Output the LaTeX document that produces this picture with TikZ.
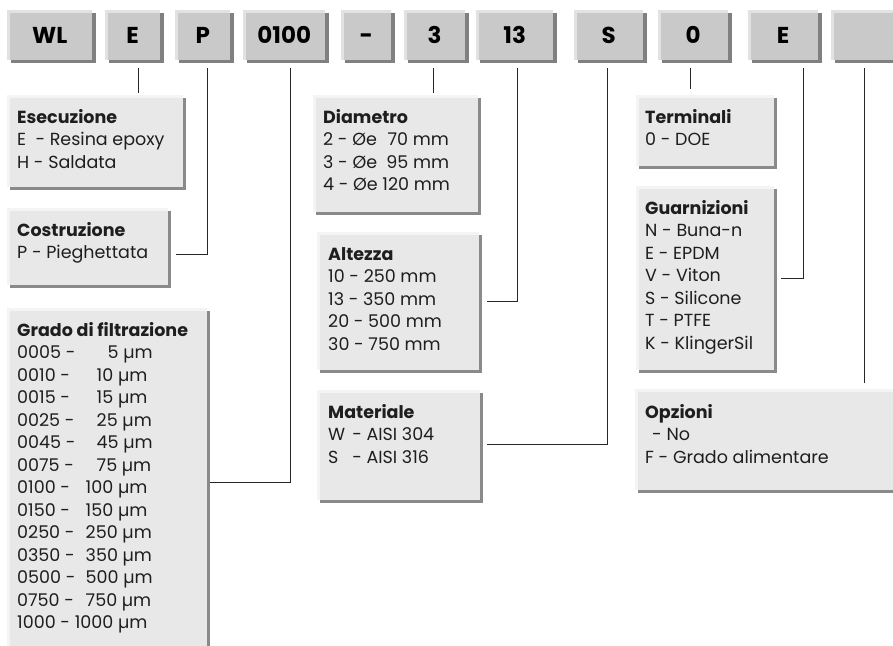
\documentclass[tikz,border=0pt]{standalone}
\usepackage{fontspec}
\setmainfont{Poppins}
\usetikzlibrary{calc,shadows}
\definecolor{tgray}{HTML}{C9C9C9}
\definecolor{tlight}{HTML}{E2E2E2}
\definecolor{shgray}{HTML}{808080}
\definecolor{dgray}{HTML}{E8E8E8}
\definecolor{dlight}{HTML}{F4F4F4}
\definecolor{dshadow}{HTML}{8A8A8A}
\definecolor{txtc}{HTML}{1E1E1E}
\tikzset{
  topbox/.style={rectangle, fill=tgray, inner sep=0pt, anchor=north west,
    minimum height=50pt, text height=16pt, text depth=0pt, font=\fontsize{23}{26}\selectfont\bfseries, text=black,
    drop shadow={shadow xshift=4pt, shadow yshift=-3pt, fill=shgray, opacity=1}},
  descbox/.style={rectangle, fill=dgray, inner sep=0pt, anchor=north west,
    drop shadow={shadow xshift=3pt, shadow yshift=-3pt, fill=dshadow, opacity=1}},
  desctext/.style={anchor=north west, inner sep=0pt, align=left,
    font=\fontsize{17.5}{22.5}\selectfont, text=txtc},
  conn/.style={draw=black!85, line width=0.9pt},
}
\newcommand\firstln{\rule{0pt}{16pt}}
\newcommand\gline[2]{#1 - \hphantom{1000}\llap{#2} µm}
\begin{document}
\begin{tikzpicture}[x=1pt,y=-1pt]
\useasboundingbox (0,0) rectangle (893,645);
\clip (0,0) rectangle (893,645);
% top code boxes
\node[topbox, minimum width=85pt] (tWL) at (7,10) {WL};
\node[topbox, minimum width=55pt] (tE) at (105,10) {E};
\node[topbox, minimum width=55pt] (tP) at (175,10) {P};
\node[topbox, minimum width=82pt] (tO) at (243,10) {0100};
\node[topbox, minimum width=50pt] (tD) at (341,10) {-};
\node[topbox, minimum width=61pt] (t3) at (404,10) {3};
\node[topbox, minimum width=77pt] (t13) at (476,10) {13};
\node[topbox, minimum width=69pt] (tS) at (574,10) {S};
\node[topbox, minimum width=70pt] (t0) at (658,10) {0};
\node[topbox, minimum width=70pt] (tE2) at (748,10) {E};
\node[topbox, minimum width=70pt] (tB) at (831,10) {};
\foreach \n in {tWL,tE,tP,tO,tD,t3,t13,tS,t0,tE2,tB}{
  \fill[tlight] (\n.north west) rectangle ($(\n.north east)+(0,3)$);
  \fill[tlight] (\n.north west) rectangle ($(\n.south west)+(3,0)$);
}
% description boxes
\node[descbox, minimum width=176pt, minimum height=92pt] (ese) at (7,95) {};
\node[descbox, minimum width=161pt, minimum height=77pt] (cos) at (7,208) {};
\node[descbox, minimum width=200pt, minimum height=345pt] (gra) at (7,308) {};
\node[descbox, minimum width=165pt, minimum height=117pt] (dia) at (313,95) {};
\node[descbox, minimum width=162pt, minimum height=138pt] (alt) at (317,232) {};
\node[descbox, minimum width=163pt, minimum height=110pt] (mat) at (317,390) {};
\node[descbox, minimum width=138pt, minimum height=71pt] (ter) at (636,95) {};
\node[descbox, minimum width=138pt, minimum height=184pt] (gua) at (636,186) {};
\node[descbox, minimum width=265pt, minimum height=101pt] (opz) at (635,389) {};
\foreach \n in {ese,cos,gra,dia,alt,mat,ter,gua,opz}{
  \fill[dlight] (\n.north west) rectangle ($(\n.north east)+(0,3)$);
  \fill[dlight] (\n.north west) rectangle ($(\n.south west)+(3,0)$);
}
% texts
\node[desctext] (eseT) at ($(ese.north west)+(10,12)$)
  {\firstln\textbf{Esecuzione}\\E\ \ - Resina epoxy\\H - Saldata};
\node[desctext] (cosT) at ($(cos.north west)+(10,12)$)
  {\firstln\textbf{Costruzione}\\P - Pieghettata};
\node[desctext] (graT) at ($(gra.north west)+(10,12)$)
  {\firstln\textbf{Grado di filtrazione}\\
   \gline{0005}{5}\\\gline{0010}{10}\\\gline{0015}{15}\\\gline{0025}{25}\\
   \gline{0045}{45}\\\gline{0075}{75}\\\gline{0100}{100}\\\gline{0150}{150}\\
   \gline{0250}{250}\\\gline{0350}{350}\\\gline{0500}{500}\\\gline{0750}{750}\\
   \gline{1000}{1000}};
\node[desctext] (diaT) at ($(dia.north west)+(10,12)$)
  {\firstln\textbf{Diametro}\\2 - Øe \hphantom{120}\llap{70} mm\\3 - Øe \hphantom{120}\llap{95} mm\\4 - Øe 120 mm};
\node[desctext] (altT) at ($(alt.north west)+(11,12)$)
  {\firstln\textbf{Altezza}\\10 - 250 mm\\13 - 350 mm\\20 - 500 mm\\30 - 750 mm};
\node[desctext] (matT) at ($(mat.north west)+(11,12)$)
  {\firstln\textbf{Materiale}\\\rlap{W}\hphantom{W}\hspace{7pt}- AISI 304\\\rlap{S}\hphantom{W}\hspace{7pt}- AISI 316};
\node[desctext] (terT) at ($(ter.north west)+(9,12)$)
  {\firstln\textbf{Terminali}\\0 - DOE};
\node[desctext] (guaT) at ($(gua.north west)+(9,12)$)
  {\firstln\textbf{Guarnizioni}\\N - Buna-n\\E - EPDM\\V - Viton\\S - Silicone\\T - PTFE\\K - KlingerSil};
\node[desctext] (opzT) at ($(opz.north west)+(10,13)$)
  {\firstln\textbf{Opzioni}\\\hspace*{7pt}- No\\F - Grado alimentare};
% connectors
\draw[conn] ($(tE.south)+(5.5,8)$) -- ($(tE.south |- ese.north)+(5.5,-2)$);
\draw[conn] ($(tP.south)+(4.5,8)$) |- ($(cos.north east)+(8,46)$);
\draw[conn] ($(tO.south)+(6,8)$) |- ($(gra.north east)+(3,174)$);
\draw[conn] ($(t3.south)+(-1.5,8)$) -- ($(t3.south |- dia.north)+(-1.5,-2)$);
\draw[conn] ($(t13.south)+(2.5,8)$) |- ($(alt.north east)+(8,69)$);
\draw[conn] ($(tS.south)+(-1.5,8)$) |- ($(mat.north east)+(7,54)$);
\draw[conn] ($(t0.south)+(-3,8)$) -- ($(t0.south |- ter.north)+(-3,-6)$);
\draw[conn] ($(tE2.south)+(20,8)$) |- ($(gua.north east)+(7,92)$);
\draw[conn] ($(tB.south)+(-1.5,8)$) -- ($(tB.south |- opz.north)+(-1.5,-6)$);
\end{tikzpicture}
\end{document}
